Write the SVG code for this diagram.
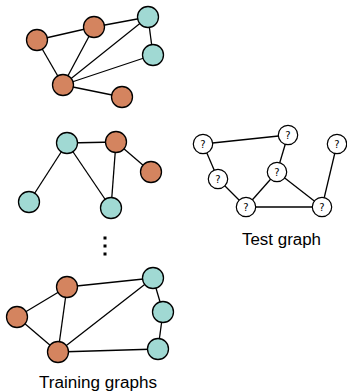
<svg xmlns="http://www.w3.org/2000/svg" width="347" height="392" viewBox="0 0 347 392">
<style>
.e{stroke:#000;stroke-width:1.3;fill:none}
.o{fill:#d4845f;stroke:#000;stroke-width:1.3}
.t{fill:#a0d9d3;stroke:#000;stroke-width:1.3}
.q{fill:#fff;stroke:#000;stroke-width:1.2}
.ql{font-family:"DejaVu Sans","Liberation Sans",sans-serif;font-size:10px;text-anchor:middle;fill:#000}
.lbl{font-family:"Liberation Sans",Arial,sans-serif;font-size:16px;text-anchor:middle;fill:#000}
</style>
<rect width="347" height="392" fill="#fff"/>
<g id="connectors">
<line class="e" x1="37" y1="40" x2="94" y2="27"/>
<line class="e" x1="37" y1="40" x2="63" y2="85"/>
<line class="e" x1="94" y1="27" x2="63" y2="85"/>
<line class="e" x1="94" y1="27" x2="148" y2="17"/>
<line class="e" x1="148" y1="17" x2="63" y2="85"/>
<line class="e" x1="148" y1="17" x2="153" y2="55"/>
<line class="e" x1="153" y1="55" x2="63" y2="85"/>
<line class="e" x1="63" y1="85" x2="122" y2="97"/>
<line class="e" x1="67" y1="143" x2="116" y2="142"/>
<line class="e" x1="67" y1="143" x2="29" y2="202"/>
<line class="e" x1="67" y1="143" x2="111" y2="208"/>
<line class="e" x1="116" y1="142" x2="111" y2="208"/>
<line class="e" x1="116" y1="142" x2="151" y2="172"/>
<line class="e" x1="17" y1="317" x2="67" y2="287"/>
<line class="e" x1="17" y1="317" x2="58" y2="352"/>
<line class="e" x1="67" y1="287" x2="58" y2="352"/>
<line class="e" x1="67" y1="287" x2="153" y2="278"/>
<line class="e" x1="58" y1="352" x2="153" y2="278"/>
<line class="e" x1="153" y1="278" x2="163" y2="312"/>
<line class="e" x1="163" y1="312" x2="158" y2="349"/>
<line class="e" x1="58" y1="352" x2="158" y2="349"/>
<line class="e" x1="203" y1="144" x2="288" y2="135"/>
<line class="e" x1="203" y1="144" x2="218" y2="179"/>
<line class="e" x1="218" y1="179" x2="246" y2="207"/>
<line class="e" x1="246" y1="207" x2="277" y2="172"/>
<line class="e" x1="277" y1="172" x2="288" y2="135"/>
<line class="e" x1="277" y1="172" x2="322" y2="207"/>
<line class="e" x1="246" y1="207" x2="322" y2="207"/>
<line class="e" x1="322" y1="207" x2="337" y2="144"/>
</g>
<g id="g1a"><circle class="o" cx="37" cy="40" r="10.5"/></g>
<g id="g1b"><circle class="o" cx="94" cy="27" r="10.5"/></g>
<g id="g1c"><circle class="t" cx="148" cy="17" r="10.5"/></g>
<g id="g1d"><circle class="t" cx="153" cy="55" r="10.5"/></g>
<g id="g1e"><circle class="o" cx="63" cy="85" r="10.5"/></g>
<g id="g1f"><circle class="o" cx="122" cy="97" r="10.5"/></g>
<g id="g2a"><circle class="t" cx="67" cy="143" r="10.5"/></g>
<g id="g2b"><circle class="o" cx="116" cy="142" r="10.5"/></g>
<g id="g2c"><circle class="o" cx="151" cy="172" r="10.5"/></g>
<g id="g2d"><circle class="t" cx="29" cy="202" r="10.5"/></g>
<g id="g2e"><circle class="t" cx="111" cy="208" r="10.5"/></g>
<g id="dots">
<rect x="103.5" y="236.5" width="3" height="3" fill="#000"/>
<rect x="103.5" y="244.5" width="3" height="3" fill="#000"/>
<rect x="103.5" y="252.5" width="3" height="3" fill="#000"/>
</g>
<g id="g3a"><circle class="o" cx="17" cy="317" r="10.5"/></g>
<g id="g3b"><circle class="o" cx="67" cy="287" r="10.5"/></g>
<g id="g3c"><circle class="o" cx="58" cy="352" r="10.5"/></g>
<g id="g3d"><circle class="t" cx="153" cy="278" r="10.5"/></g>
<g id="g3e"><circle class="t" cx="163" cy="312" r="10.5"/></g>
<g id="g3f"><circle class="t" cx="158" cy="349" r="10.5"/></g>
<g id="ta"><circle class="q" cx="203" cy="144" r="9.7"/><text class="ql" x="203" y="148">?</text></g>
<g id="tb"><circle class="q" cx="288" cy="135" r="9.7"/><text class="ql" x="288" y="139">?</text></g>
<g id="tc"><circle class="q" cx="218" cy="179" r="9.7"/><text class="ql" x="218" y="183">?</text></g>
<g id="td"><circle class="q" cx="277" cy="172" r="9.7"/><text class="ql" x="277" y="176">?</text></g>
<g id="te"><circle class="q" cx="337" cy="144" r="9.7"/><text class="ql" x="337" y="148">?</text></g>
<g id="tf"><circle class="q" cx="246" cy="207" r="9.7"/><text class="ql" x="246" y="211">?</text></g>
<g id="tg"><circle class="q" cx="322" cy="207" r="9.7"/><text class="ql" x="322" y="211">?</text></g>
<g id="labels">
<text class="lbl" x="98" y="388" textLength="118" lengthAdjust="spacingAndGlyphs">Training graphs</text>
<text class="lbl" x="281.5" y="245" textLength="79" lengthAdjust="spacingAndGlyphs">Test graph</text>
</g>
</svg>
